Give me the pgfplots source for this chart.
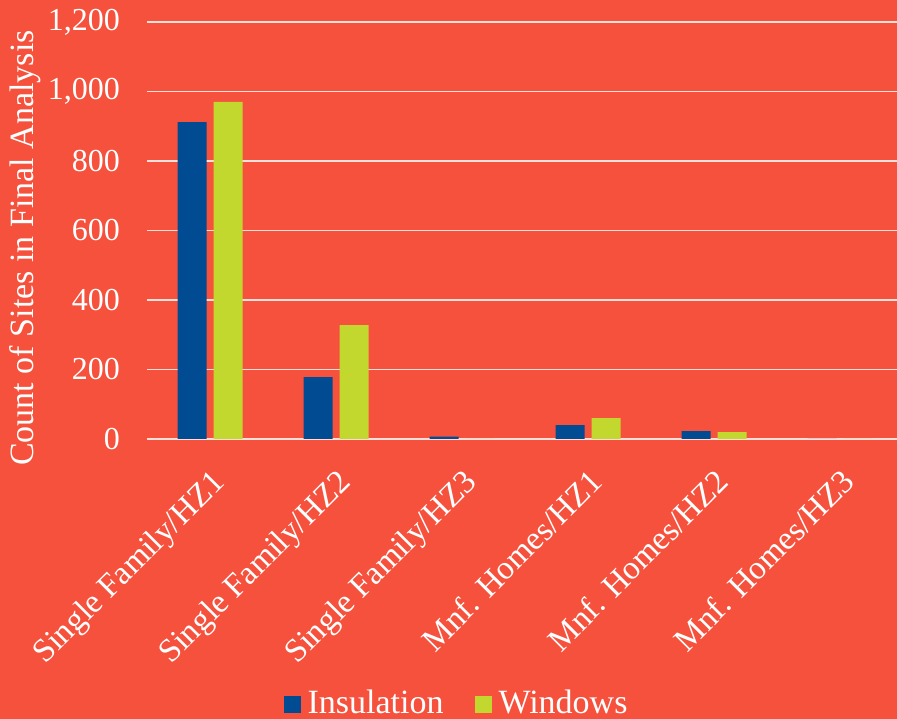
\documentclass[border=0pt]{standalone}
\usepackage{fontspec}
\setmainfont{Liberation Serif}
\usepackage{pgfplots}
\pgfplotsset{compat=1.18}
\definecolor{bg}{HTML}{F6513C}
\definecolor{insul}{HTML}{004B91}
\definecolor{wind}{HTML}{C3D82E}
\colorlet{gridc}{white!82!bg}
\begin{document}
\begin{tikzpicture}
\fill[bg] (0,0) rectangle (897pt,719pt);
\useasboundingbox (0,0) rectangle (897pt,719pt);
\begin{axis}[
  at={(147pt,280pt)}, anchor=south west,
  scale only axis, width=750pt, height=417pt,
  xmin=-0.5, xmax=5.452, ymin=0, ymax=1200,
  axis line style={draw=none}, tick style={draw=none},
  ymajorgrids, grid style={gridc, line width=1.6pt},
  ytick={0,200,...,1200},
  /pgf/number format/assume math mode=true,
  /pgf/number format/1000 sep={,},
  xtick={0,...,5},
  xticklabels={Single Family/HZ1,Single Family/HZ2,Single Family/HZ3,Mnf. Homes/HZ1,Mnf. Homes/HZ2,Mnf. Homes/HZ3},
  xticklabel style={rotate=45, anchor=north east, inner sep=0pt, text=white, font=\fontsize{33}{40}\selectfont},
  xticklabel shift=24pt,
  yticklabel style={anchor=east, inner sep=0pt, xshift=-27pt, text=white, font=\fontsize{32}{38}\selectfont},
  ylabel={Count of Sites in Final Analysis},
  ylabel style={at={(axis description cs:-0.1627,0.458)}, anchor=center, text=white, font=\fontsize{34}{40}\selectfont},
  ybar=7pt, bar width=29pt,
  legend style={at={(axis description cs:0.412,-0.632)}, anchor=center, draw=none, fill=none,
    inner sep=0pt, legend columns=2, text=white, font=\fontsize{34}{40}\selectfont,
    nodes={inner sep=1pt},
    /tikz/every odd column/.append style={column sep=6pt},
    /tikz/every even column/.append style={column sep=30pt}},
  legend image code/.code={\fill[#1] (0pt,-10pt) rectangle (17pt,7pt);},
]
\addplot[fill=insul, draw=none] coordinates {(0,912) (1,178) (2,7) (3,40) (4,23) (5,0)};
\addplot[fill=wind, draw=none] coordinates {(0,970) (1,328) (2,0) (3,60) (4,20) (5,0)};
\legend{Insulation,Windows}
\end{axis}
\end{tikzpicture}
\end{document}
